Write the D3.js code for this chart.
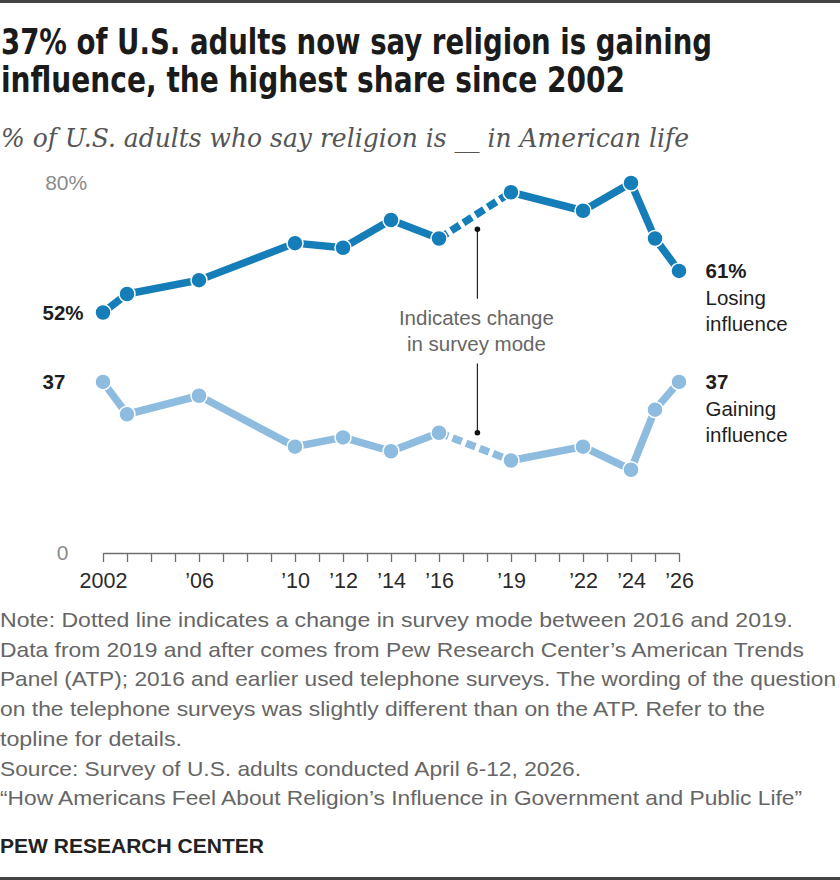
<!DOCTYPE html>
<html>
<head>
<meta charset="utf-8">
<script src="https://cdn.jsdelivr.net/npm/d3@7"></script>
<style>
  html, body { margin: 0; padding: 0; background: #fff; }
  svg { display: block; }
</style>
</head>
<body>
<svg id="chart" width="840" height="880"></svg>
<script>
// ---------- DATA ----------
const years   = [2002, 2003, 2006, 2010, 2012, 2014, 2016, 2019, 2022, 2024, 2025, 2026];
const losing  = [52, 56, 59, 67, 66, 72, 68, 78, 74, 80, 68, 61];
const gaining = [37, 30, 34, 23, 25, 22, 26, 20, 23, 18, 31, 37];
const modeChangeFrom = 2016;
const modeChangeTo   = 2019;
const tickYears  = d3.range(2002, 2027);
const labelYears = [2002, 2006, 2010, 2012, 2014, 2016, 2019, 2022, 2024, 2026];
const labelText  = ["2002", "\u201906", "\u201910", "\u201912", "\u201914", "\u201916", "\u201919", "\u201922", "\u201924", "\u201926"];
const yTicks = [0, 80];
const titleLines = ["37% of U.S. adults now say religion is gaining", "influence, the highest share since 2002"];
const subtitle = "% of U.S. adults who say religion is __ in American life";
const noteLines = [
  "Note: Dotted line indicates a change in survey mode between 2016 and 2019.",
  "Data from 2019 and after comes from Pew Research Center\u2019s American Trends",
  "Panel (ATP); 2016 and earlier used telephone surveys. The wording of the question",
  "on the telephone surveys was slightly different than on the ATP. Refer to the",
  "topline for details.",
  "Source: Survey of U.S. adults conducted April 6-12, 2026.",
  "\u201cHow Americans Feel About Religion\u2019s Influence in Government and Public Life\u201d"
];
const noteWidths = [793, 804, 836, 765, 182, 581, 802];
const annotation = { year: 2017.6, top: 70, topEnd: 55, bottomStart: 41, bottom: 26, lines: ["Indicates change", "in survey mode"] };

// ---------- SETUP ----------
const svg = d3.select("#chart");
const darkBlue = "#157db8";
const lightBlue = "#8ebcdf";
const sans = "'Liberation Sans', Arial, sans-serif";

const x = d3.scaleLinear().domain([2002, 2026]).range([103, 679]);
const y = d3.scaleLinear().domain([0, 80]).range([553, 183]);

function fit(sel, w) {
  sel.each(function() {
    const cur = this.getComputedTextLength();
    if (Math.abs(cur - w) > 1) {
      d3.select(this).attr("textLength", w).attr("lengthAdjust", "spacingAndGlyphs");
    }
  });
}

// top and bottom bars
svg.append("rect").attr("x", 0).attr("y", 0).attr("width", 840).attr("height", 3).attr("fill", "#444");
svg.append("rect").attr("x", 0).attr("y", 877).attr("width", 840).attr("height", 3).attr("fill", "#444");

// title
const titleW = [711, 624];
titleLines.forEach((t, i) => {
  svg.append("text")
    .attr("x", 1).attr("y", 54 + i * 38)
    .attr("font-family", "'Liberation Sans Narrow', 'DejaVu Sans Condensed', 'Arial Narrow', sans-serif")
    .attr("font-weight", "bold")
    .attr("font-size", 35.5)
    .attr("fill", "#1b1b1b")
    .text(t)
    .call(fit, titleW[i]);
});

// subtitle
svg.append("text")
  .attr("x", 1).attr("y", 147)
  .attr("font-family", "'DejaVu Serif', Georgia, serif")
  .attr("font-style", "italic")
  .attr("font-size", 25.5)
  .attr("fill", "#555")
  .text(subtitle)
  .call(fit, 688);

// ---------- AXIS ----------
const labelMap = new Map(labelYears.map((yr, i) => [yr, labelText[i]]));
const xAxis = d3.axisBottom(x)
  .tickValues(tickYears)
  .tickSize(9)
  .tickSizeOuter(0)
  .tickPadding(11)
  .tickFormat(d => labelMap.get(d) || "");
const gx = svg.append("g").attr("transform", `translate(0,${y(0)})`).call(xAxis);
gx.select(".domain").attr("stroke", "#6f6f6f").attr("stroke-width", 1.3);
gx.selectAll(".tick line").attr("stroke", "#6f6f6f").attr("stroke-width", 1.3);
gx.selectAll(".tick text")
  .attr("font-family", sans).attr("font-size", 21.5).attr("fill", "#2a2a2a");

// y tick labels (number right aligned, % hanging)
yTicks.forEach(v => {
  svg.append("text")
    .attr("x", 68.5).attr("y", y(v) + 7)
    .attr("text-anchor", "end")
    .attr("font-family", sans).attr("font-size", 21).attr("fill", "#8c8c8c")
    .text(v);
  if (v === d3.max(yTicks)) {
    svg.append("text")
      .attr("x", 68.5).attr("y", y(v) + 7)
      .attr("font-family", sans).attr("font-size", 21).attr("fill", "#8c8c8c")
      .text("%");
  }
});

// ---------- LINES ----------
function drawSeries(values, color) {
  const pts = years.map((yr, i) => ({ yr, v: values[i] }));
  const before = pts.filter(p => p.yr <= modeChangeFrom);
  const mid = pts.filter(p => p.yr === modeChangeFrom || p.yr === modeChangeTo);
  const after = pts.filter(p => p.yr >= modeChangeTo);
  const line = d3.line().x(p => x(p.yr)).y(p => y(p.v));
  const g = svg.append("g");
  [before, after].forEach(seg => {
    g.append("path").attr("d", line(seg))
      .attr("fill", "none").attr("stroke", color).attr("stroke-width", 7.5)
      .attr("stroke-linejoin", "round");
  });
  g.append("path").attr("d", line(mid))
    .attr("fill", "none").attr("stroke", color).attr("stroke-width", 7.5)
    .attr("stroke-dasharray", "10,4.5");
  g.selectAll("circle").data(pts).join("circle")
    .attr("cx", p => x(p.yr)).attr("cy", p => y(p.v)).attr("r", 8)
    .attr("fill", color).attr("stroke", "#fff").attr("stroke-width", 1.5);
}
drawSeries(gaining, lightBlue);
drawSeries(losing, darkBlue);

// ---------- ANNOTATION ----------
const ax = x(annotation.year);
svg.append("line").attr("x1", ax).attr("x2", ax)
  .attr("y1", y(annotation.top)).attr("y2", y(annotation.topEnd))
  .attr("stroke", "#222").attr("stroke-width", 1.2);
svg.append("line").attr("x1", ax).attr("x2", ax)
  .attr("y1", y(annotation.bottomStart)).attr("y2", y(annotation.bottom))
  .attr("stroke", "#222").attr("stroke-width", 1.2);
[annotation.top, annotation.bottom].forEach(v => {
  svg.append("circle").attr("cx", ax).attr("cy", y(v)).attr("r", 2.8).attr("fill", "#111");
});
annotation.lines.forEach((t, i) => {
  svg.append("text")
    .attr("x", ax - 1).attr("y", y(annotation.topEnd) + 26 + i * 26)
    .attr("text-anchor", "middle")
    .attr("font-family", sans).attr("font-size", 20.5).attr("fill", "#666")
    .text(t);
});

// ---------- DIRECT LABELS ----------
const first = 0, last = years.length - 1;
function leftLabel(v, txt) {
  svg.append("text").attr("x", 42.5).attr("y", y(v) + 7)
    .attr("font-family", sans).attr("font-weight", "bold").attr("font-size", 20.5).attr("fill", "#1e1e1e")
    .text(txt);
}
leftLabel(losing[first], losing[first] + "%");
leftLabel(gaining[first], String(gaining[first]));

function rightLabel(v, lines) {
  const t = svg.append("text").attr("x", 705.5).attr("y", y(v) + 7)
    .attr("font-family", sans).attr("font-size", 20.5).attr("fill", "#1e1e1e");
  lines.forEach((l, i) => {
    t.append("tspan").attr("x", 705.5).attr("dy", i === 0 ? 0 : 26.8)
      .attr("font-weight", i === 0 ? "bold" : "normal").text(l);
  });
}
rightLabel(losing[last], [losing[last] + "%", "Losing", "influence"]);
rightLabel(gaining[last], [String(gaining[last]), "Gaining", "influence"]);

// ---------- NOTES ----------
noteLines.forEach((t, i) => {
  svg.append("text").attr("x", 0).attr("y", 627 + i * 29.7)
    .attr("font-family", sans).attr("font-size", 21).attr("fill", "#666")
    .text(t)
    .call(fit, noteWidths[i]);
});
svg.append("text").attr("x", 0).attr("y", 853)
  .attr("font-family", sans)
  .attr("font-weight", "bold")
  .attr("font-size", 20)
  .attr("fill", "#222")
  .text("PEW RESEARCH CENTER")
  .call(fit, 264);
</script>
</body>
</html>
